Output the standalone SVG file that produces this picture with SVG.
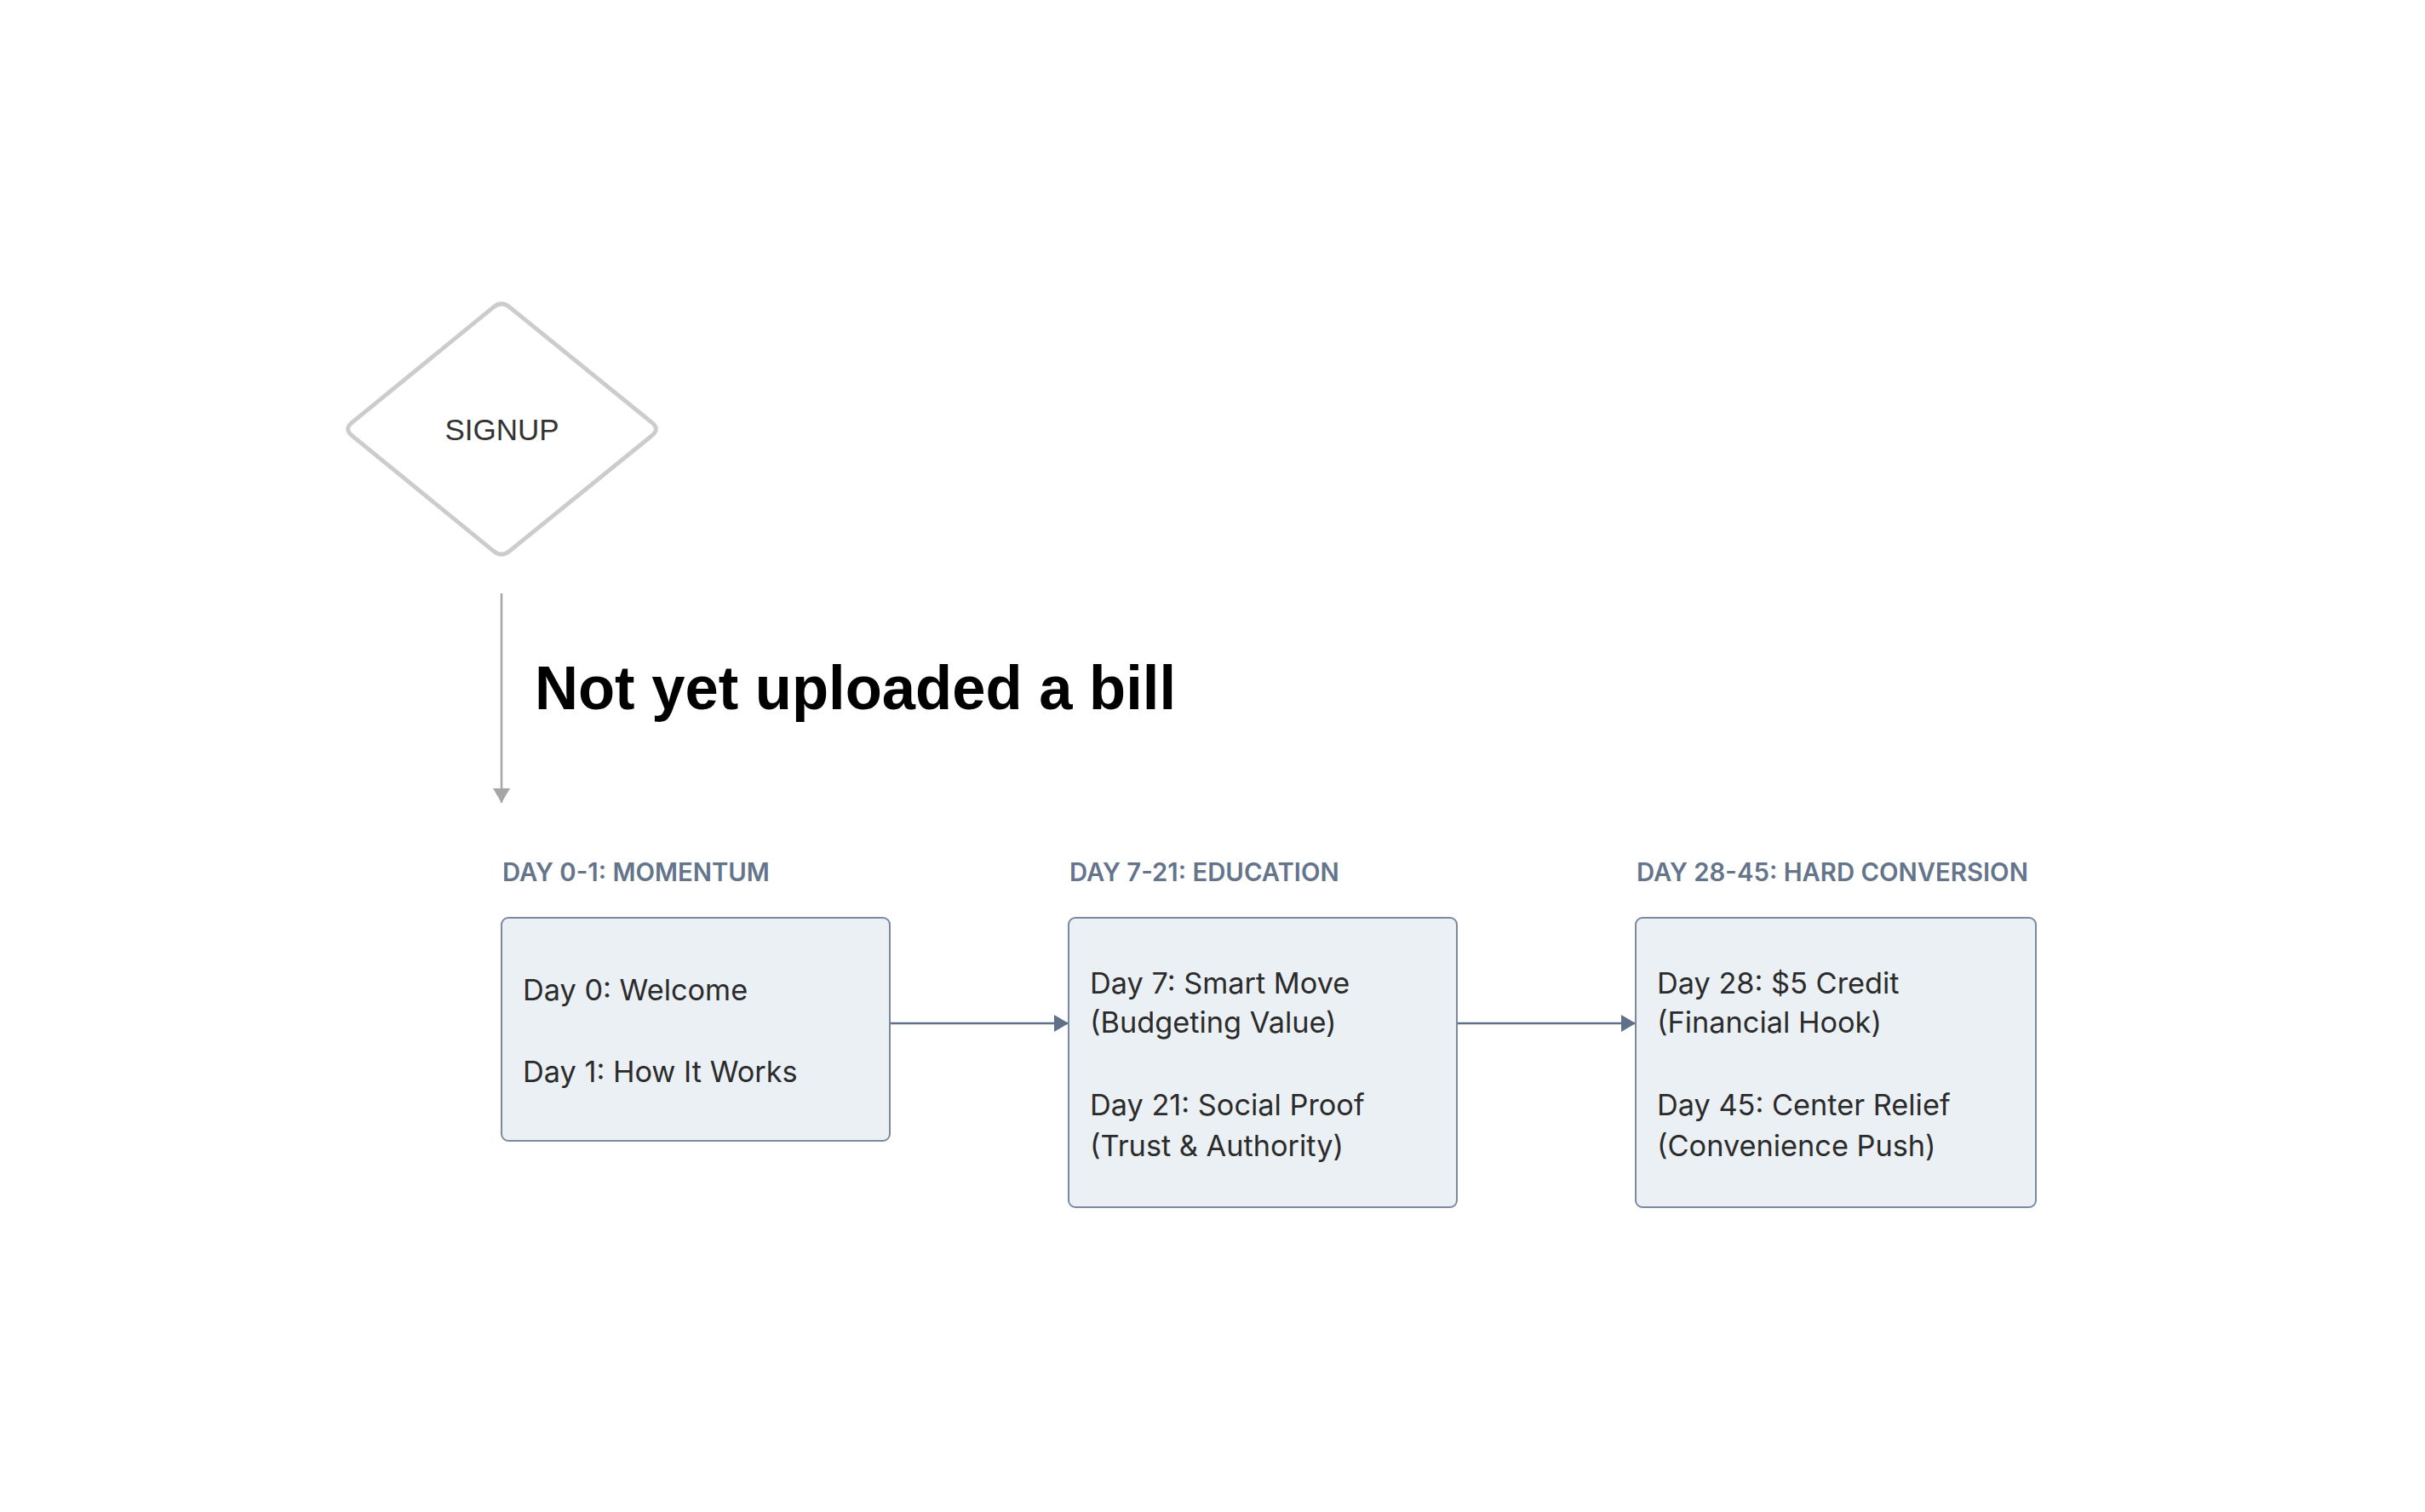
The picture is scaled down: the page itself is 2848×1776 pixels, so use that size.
<svg xmlns="http://www.w3.org/2000/svg" width="2848" height="1776" viewBox="0 0 2848 1776">
  <style>
    .phase { font-family: Inter, "Open Sans", "Liberation Sans", sans-serif; font-size: 29.3px; font-weight: 600; fill: #64748b; }
    .body { font-family: Inter, "Open Sans", "Liberation Sans", sans-serif; font-size: 34.3px; font-weight: 400; fill: #2b2b2b; }
    .box { fill: #ebf0f5; stroke: #7a8aa0; stroke-width: 2; }
    .flow { stroke: #5f7089; stroke-width: 2.5; fill: none; }
  </style>
  <defs>
    <marker id="arrowSlate" markerUnits="userSpaceOnUse" markerWidth="17" markerHeight="20" refX="17" refY="10" orient="auto" viewBox="0 0 17 20">
      <path d="M0,0 L17,10 L0,20 Z" fill="#5f7089"/>
    </marker>
    <marker id="arrowGray" markerUnits="userSpaceOnUse" markerWidth="17" markerHeight="20" refX="17" refY="10" orient="auto" viewBox="0 0 17 20">
      <path d="M0,0 L17,10 L0,20 Z" fill="#a6a6a6"/>
    </marker>
  </defs>
  <rect x="0" y="0" width="2848" height="1776" fill="#ffffff"/>

  <g id="signup">
    <path d="M579.7,360.6 Q589,353 598.3,360.6 L765.7,496.4 Q775,504 765.7,511.6 L598.3,647.4 Q589,655 579.7,647.4 L413.3,511.6 Q404,504 413.3,496.4 Z" fill="#ffffff" stroke="#cccccc" stroke-width="5" stroke-linejoin="round"/>
    <text x="589.5" y="517" text-anchor="middle" font-family="'Liberation Sans', Arial, sans-serif" font-size="35" fill="#333333">SIGNUP</text>
  </g>

  <g id="title">
    <text x="628" y="833" font-family="'Liberation Sans', Arial, sans-serif" font-size="72" font-weight="700" fill="#000000" textLength="753" lengthAdjust="spacingAndGlyphs">Not yet uploaded a bill</text>
  </g>

  <g id="connectors">
    <line x1="589" y1="697" x2="589" y2="943" stroke="#a6a6a6" stroke-width="2.5" marker-end="url(#arrowGray)"/>
    <line class="flow" x1="1045" y1="1202" x2="1255" y2="1202" marker-end="url(#arrowSlate)"/>
    <line class="flow" x1="1711" y1="1202" x2="1921" y2="1202" marker-end="url(#arrowSlate)"/>
  </g>

  <g id="phase-momentum">
    <text class="phase" x="590" y="1035">DAY 0-1: MOMENTUM</text>
    <rect class="box" x="589" y="1078" width="456" height="262" rx="8"/>
    <text class="body" x="614" y="1175">Day 0: Welcome</text>
    <text class="body" x="614" y="1271">Day 1: How It Works</text>
  </g>

  <g id="phase-education">
    <text class="phase" x="1256" y="1035">DAY 7-21: EDUCATION</text>
    <rect class="box" x="1255" y="1078" width="456" height="340" rx="8"/>
    <text class="body" x="1280" y="1167">Day 7: Smart Move</text>
    <text class="body" x="1280" y="1213">(Budgeting Value)</text>
    <text class="body" x="1280" y="1310">Day 21: Social Proof</text>
    <text class="body" x="1280" y="1358">(Trust &amp; Authority)</text>
  </g>

  <g id="phase-conversion">
    <text class="phase" x="1922" y="1035">DAY 28-45: HARD CONVERSION</text>
    <rect class="box" x="1921" y="1078" width="470" height="340" rx="8"/>
    <text class="body" x="1946" y="1167">Day 28: $5 Credit</text>
    <text class="body" x="1946" y="1213">(Financial Hook)</text>
    <text class="body" x="1946" y="1310">Day 45: Center Relief</text>
    <text class="body" x="1946" y="1358">(Convenience Push)</text>
  </g>
</svg>
